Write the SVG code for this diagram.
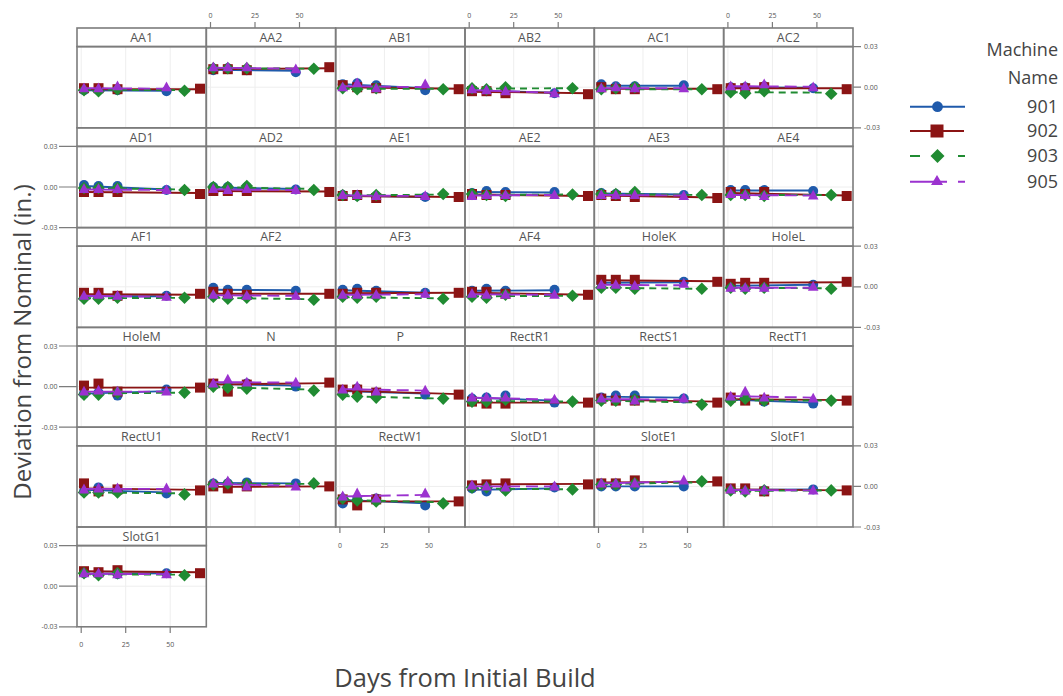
<svg xmlns="http://www.w3.org/2000/svg" xmlns:xlink="http://www.w3.org/1999/xlink" width="1063" height="696" viewBox="0 0 1063 696">
<style>
.sf,.pf{fill:none;stroke:#7c7c7c;stroke-width:1.6}
.gl{stroke:#eeeeee;stroke-width:1;fill:none}
.st{font-family:"Open Sans","Noto Sans",sans-serif;font-size:12.5px;fill:#555;text-anchor:middle}
.tk{font-family:"Open Sans","Noto Sans",sans-serif;font-size:7px;fill:#555}
.tm{stroke:#7c7c7c;stroke-width:1.2}
.ax{font-family:"Open Sans","Noto Sans",sans-serif;font-size:24px;fill:#444;text-anchor:middle}
.lg{font-family:"Open Sans","Noto Sans",sans-serif;font-size:18px;fill:#444;text-anchor:end}
.b{stroke:#1f5aab;stroke-width:1.9;fill:none}
.r{stroke:#8b1414;stroke-width:1.9;fill:none}
.g{stroke:#208b32;stroke-width:1.9;fill:none;stroke-dasharray:7 5}
.p{stroke:#9b32cf;stroke-width:1.9;fill:none;stroke-dasharray:12 6}
.mb,.mr,.mg,.mp{fill:none;stroke:none}
.mb{marker-start:url(#k1);marker-mid:url(#k1);marker-end:url(#k1)}
.mr{marker-start:url(#k2);marker-mid:url(#k2);marker-end:url(#k2)}
.mg{marker-start:url(#k3);marker-mid:url(#k3);marker-end:url(#k3)}
.mp{marker-start:url(#k4);marker-mid:url(#k4);marker-end:url(#k4)}
</style>
<defs>
<marker id="k1" viewBox="-8 -8 16 16" refX="0" refY="0" markerWidth="16" markerHeight="16" markerUnits="userSpaceOnUse" overflow="visible"><circle r="5" fill="#1f5aab"/></marker>
<marker id="k2" viewBox="-8 -8 16 16" refX="0" refY="0" markerWidth="16" markerHeight="16" markerUnits="userSpaceOnUse" overflow="visible"><rect x="-5" y="-5" width="10" height="10" fill="#8b1414"/></marker>
<marker id="k3" viewBox="-8 -8 16 16" refX="0" refY="0" markerWidth="16" markerHeight="16" markerUnits="userSpaceOnUse" overflow="visible"><path d="M0 -6.3L6.3 0L0 6.3L-6.3 0Z" fill="#208b32"/></marker>
<marker id="k4" viewBox="-8 -8 16 16" refX="0" refY="0" markerWidth="16" markerHeight="16" markerUnits="userSpaceOnUse" overflow="visible"><path d="M0 -5.8L5.3 4L-5.3 4Z" fill="#9b32cf"/></marker>
<g id="gr"><path class="gl" d="M4.2 -40.6V40.6M48.7 -40.6V40.6M93.2 -40.6V40.6M0 0H129.3"/></g>
<g id="fr"><rect class="sf" x="0" y="-59.2" width="129.3" height="18.6"/><rect class="pf" x="0" y="-40.6" width="129.3" height="81.2"/></g>
</defs>
<rect x="0" y="0" width="1063" height="696" fill="#ffffff"/>

<g id="axes">
<g id="ticks-top">
<path class="tm" d="M210.5 22V28M255 22V28M299.5 22V28M469.2 22V28M513.7 22V28M558.2 22V28M727.9 22V28M772.4 22V28M816.9 22V28"/>
<g class="tk" text-anchor="middle">
<text x="210.5" y="18">0</text><text x="255" y="18">25</text><text x="299.5" y="18">50</text>
<text x="469.2" y="18">0</text><text x="513.7" y="18">25</text><text x="558.2" y="18">50</text>
<text x="727.9" y="18">0</text><text x="772.4" y="18">25</text><text x="816.9" y="18">50</text>
</g>
</g>
<g id="ticks-bottom">
<path class="tm" d="M81.2 627V633M125.7 627V633M170.2 627V633M339.9 527V533M384.4 527V533M428.9 527V533M598.5 527V533M643 527V533M687.5 527V533"/>
<g class="tk" text-anchor="middle">
<text x="81.2" y="647">0</text><text x="125.7" y="647">25</text><text x="170.2" y="647">50</text>
<text x="339.9" y="547.5">0</text><text x="384.4" y="547.5">25</text><text x="428.9" y="547.5">50</text>
<text x="598.5" y="547.5">0</text><text x="643" y="547.5">25</text><text x="687.5" y="547.5">50</text>
</g>
</g>
<g id="ticks-left">
<path class="tm" d="M59 146.4H77M59 187H77M59 227.6H77M59 346H77M59 386.6H77M59 427.2H77M59 545.6H77M59 586.2H77M59 626.8H77"/>
<g class="tk" text-anchor="end">
<text x="57.5" y="148.9">0.03</text><text x="57.5" y="189.5">0.00</text><text x="57.5" y="230.1">-0.03</text>
<text x="57.5" y="348.5">0.03</text><text x="57.5" y="389.1">0.00</text><text x="57.5" y="429.7">-0.03</text>
<text x="57.5" y="548.1">0.03</text><text x="57.5" y="588.7">0.00</text><text x="57.5" y="629.3">-0.03</text>
</g>
</g>
<g id="ticks-right">
<path class="tm" d="M853 46.6H861M853 87.2H861M853 127.8H861M853 246.2H861M853 286.8H861M853 327.4H861M853 445.8H861M853 486.4H861M853 527H861"/>
<g class="tk">
<text x="864" y="49.1">0.03</text><text x="864" y="89.7">0.00</text><text x="864" y="130.3">-0.03</text>
<text x="864" y="248.7">0.03</text><text x="864" y="289.3">0.00</text><text x="864" y="329.9">-0.03</text>
<text x="864" y="448.3">0.03</text><text x="864" y="488.9">0.00</text><text x="864" y="529.5">-0.03</text>
</g>
</g>
<text class="ax" transform="translate(30.5,342) rotate(-90)">Deviation from Nominal (in.)</text>
<text class="ax" x="465" y="687" style="font-size:25.5px">Days from Initial Build</text>
</g>

<g id="panels">
<g id="p-AA1" transform="translate(77,87.2)"><use href="#gr"/>
<path class="b" d="M7 3L89.5 3.5"/><path class="mb" d="M7 3L21.5 3 40.5 3 89.5 4"/>
<path class="r" d="M7 2L123 2"/><path class="mr" d="M7 1L21.5 1 40.5 2 123 1.5"/>
<path class="g" d="M7 2.5L107.5 3"/><path class="mg" d="M7 3L21.5 4 40.5 2 107.5 3.5"/>
<path class="p" d="M7 1L89.5 1.5"/><path class="mp" d="M7 1L21.5 1 40.5 -1 89.5 0"/>
<use href="#fr"/><text class="st" x="64.65" y="-45.5">AA1</text></g>

<g id="p-AA2" transform="translate(206.3,87.2)"><use href="#gr"/>
<path class="b" d="M7 -17.5L89.5 -16.5"/><path class="mb" d="M7 -17L21.5 -19 40.5 -17 89.5 -15"/>
<path class="r" d="M7 -18L123 -19"/><path class="mr" d="M7 -18L21.5 -18 40.5 -17 123 -20"/>
<path class="g" d="M7 -19L107.5 -18.5"/><path class="mg" d="M7 -19L21.5 -19 40.5 -19 107.5 -18.5"/>
<path class="p" d="M7 -19.5L89.5 -18.5"/><path class="mp" d="M7 -20L21.5 -20 40.5 -20 89.5 -18"/>
<use href="#fr"/><text class="st" x="64.65" y="-45.5">AA2</text></g>

<g id="p-AB1" transform="translate(335.7,87.2)"><use href="#gr"/>
<path class="b" d="M7 -3L89.5 1"/><path class="mb" d="M7 -3L21.5 -4 40.5 -2 89.5 3"/>
<path class="r" d="M7 0L123 1.5"/><path class="mr" d="M7 -2L21.5 0 40.5 1 123 2"/>
<path class="g" d="M7 1.5L107.5 1.5"/><path class="mg" d="M7 1L21.5 2 40.5 1 107.5 2"/>
<path class="p" d="M7 -1L89.5 0"/><path class="mp" d="M7 0L21.5 -4 40.5 1 89.5 -3"/>
<use href="#fr"/><text class="st" x="64.65" y="-45.5">AB1</text></g>

<g id="p-AB2" transform="translate(465,87.2)"><use href="#gr"/>
<path class="b" d="M7 3.5L89.5 5.5"/><path class="mb" d="M7 3L21.5 4 40.5 4 89.5 6"/>
<path class="r" d="M7 4.5L123 6"/><path class="mr" d="M7 4L21.5 4 40.5 6 123 7"/>
<path class="g" d="M7 1.5L107.5 1"/><path class="mg" d="M7 1L21.5 2 40.5 0 107.5 1"/>
<path class="p" d="M7 3L89.5 5.5"/><path class="mp" d="M7 2L21.5 3 40.5 4 89.5 6"/>
<use href="#fr"/><text class="st" x="64.65" y="-45.5">AB2</text></g>

<g id="p-AC1" transform="translate(594.3,87.2)"><use href="#gr"/>
<path class="b" d="M7 -1.5L89.5 -1.5"/><path class="mb" d="M7 -3L21.5 -1 40.5 -1 89.5 -2"/>
<path class="r" d="M7 1.5L123 1.5"/><path class="mr" d="M7 0L21.5 2 40.5 2 123 2"/>
<path class="g" d="M7 2L107.5 2"/><path class="mg" d="M7 2L21.5 1 40.5 0 107.5 2"/>
<path class="p" d="M7 1L89.5 1"/><path class="mp" d="M7 1L21.5 0 40.5 1 89.5 1"/>
<use href="#fr"/><text class="st" x="64.65" y="-45.5">AC1</text></g>

<g id="p-AC2" transform="translate(723.7,87.2)"><use href="#gr"/>
<path class="b" d="M7 0L89.5 0.5"/><path class="mb" d="M7 0L21.5 0 40.5 -1 89.5 1"/>
<path class="r" d="M7 1L123 1"/><path class="mr" d="M7 1L21.5 1 40.5 0 123 2"/>
<path class="g" d="M7 5L107.5 5.5"/><path class="mg" d="M7 5L21.5 6 40.5 4 107.5 6.5"/>
<path class="p" d="M7 -1L89.5 -0.5"/><path class="mp" d="M7 -1L21.5 -1 40.5 -3 89.5 0"/>
<use href="#fr"/><text class="st" x="64.65" y="-45.5">AC2</text></g>

<g id="p-AD1" transform="translate(77,187)"><use href="#gr"/>
<path class="b" d="M7 -1L89.5 2.5"/><path class="mb" d="M7 -2L21.5 -1 40.5 -1 89.5 3"/>
<path class="r" d="M7 5L123 6"/><path class="mr" d="M7 5L21.5 5 40.5 5 123 7"/>
<path class="g" d="M7 1L107.5 2.5"/><path class="mg" d="M7 1L21.5 1 40.5 1 107.5 3"/>
<path class="p" d="M7 2.5L89.5 3"/><path class="mp" d="M7 2L21.5 2 40.5 2 89.5 3"/>
<use href="#fr"/><text class="st" x="64.65" y="-45.5">AD1</text></g>

<g id="p-AD2" transform="translate(206.3,187)"><use href="#gr"/>
<path class="b" d="M7 0.5L89.5 2"/><path class="mb" d="M7 0L21.5 0 40.5 0 89.5 2.5"/>
<path class="r" d="M7 4L123 4.5"/><path class="mr" d="M7 4L21.5 4 40.5 4 123 5"/>
<path class="g" d="M7 0L107.5 2"/><path class="mg" d="M7 0L21.5 0 40.5 -1 107.5 3"/>
<path class="p" d="M7 2.5L89.5 3"/><path class="mp" d="M7 2L21.5 3 40.5 2 89.5 3"/>
<use href="#fr"/><text class="st" x="64.65" y="-45.5">AD2</text></g>

<g id="p-AE1" transform="translate(335.7,187)"><use href="#gr"/>
<path class="b" d="M7 8.5L89.5 10"/><path class="mb" d="M7 8L21.5 9 40.5 9 89.5 10"/>
<path class="r" d="M7 9L123 10"/><path class="mr" d="M7 9L21.5 8 40.5 11 123 10"/>
<path class="g" d="M7 8.5L107.5 7.5"/><path class="mg" d="M7 8L21.5 9 40.5 8 107.5 7"/>
<path class="p" d="M7 8.5L89.5 9"/><path class="mp" d="M7 8L21.5 8 40.5 9 89.5 9"/>
<use href="#fr"/><text class="st" x="64.65" y="-45.5">AE1</text></g>

<g id="p-AE2" transform="translate(465,187)"><use href="#gr"/>
<path class="b" d="M7 5L89.5 5.5"/><path class="mb" d="M7 6L21.5 4 40.5 5 89.5 5"/>
<path class="r" d="M7 7.5L123 9"/><path class="mr" d="M7 7L21.5 8 40.5 8 123 9"/>
<path class="g" d="M7 8L107.5 7.5"/><path class="mg" d="M7 7L21.5 8 40.5 9 107.5 7.5"/>
<path class="p" d="M7 8.5L89.5 8"/><path class="mp" d="M7 9L21.5 8 40.5 8 89.5 8"/>
<use href="#fr"/><text class="st" x="64.65" y="-45.5">AE2</text></g>

<g id="p-AE3" transform="translate(594.3,187)"><use href="#gr"/>
<path class="b" d="M7 6.5L89.5 7.5"/><path class="mb" d="M7 6L21.5 7 40.5 7 89.5 8"/>
<path class="r" d="M7 8.5L123 10.5"/><path class="mr" d="M7 8L21.5 9 40.5 10 123 11"/>
<path class="g" d="M7 7L107.5 8"/><path class="mg" d="M7 7L21.5 7 40.5 5 107.5 8"/>
<path class="p" d="M7 8L89.5 8.5"/><path class="mp" d="M7 8L21.5 8 40.5 8 89.5 9"/>
<use href="#fr"/><text class="st" x="64.65" y="-45.5">AE3</text></g>

<g id="p-AE4" transform="translate(723.7,187)"><use href="#gr"/>
<path class="b" d="M7 3.5L89.5 3.5"/><path class="mb" d="M7 3L21.5 3 40.5 3 89.5 4"/>
<path class="r" d="M7 6L123 8.5"/><path class="mr" d="M7 5L21.5 7 40.5 5 123 9"/>
<path class="g" d="M7 8L107.5 8"/><path class="mg" d="M7 8L21.5 8 40.5 9 107.5 8"/>
<path class="p" d="M7 8L89.5 8.5"/><path class="mp" d="M7 7L21.5 8 40.5 9 89.5 8.5"/>
<use href="#fr"/><text class="st" x="64.65" y="-45.5">AE4</text></g>

<g id="p-AF1" transform="translate(77,286.8)"><use href="#gr"/>
<path class="b" d="M7 9.5L89.5 9.5"/><path class="mb" d="M7 9L21.5 9 40.5 10 89.5 9"/>
<path class="r" d="M7 7.5L123 8"/><path class="mr" d="M7 6L21.5 6 40.5 9 123 7"/>
<path class="g" d="M7 11.5L107.5 11"/><path class="mg" d="M7 12L21.5 12 40.5 11 107.5 11"/>
<path class="p" d="M7 9L89.5 10"/><path class="mp" d="M7 9L21.5 8 40.5 9 89.5 10"/>
<use href="#fr"/><text class="st" x="64.65" y="-45.5">AF1</text></g>

<g id="p-AF2" transform="translate(206.3,286.8)"><use href="#gr"/>
<path class="b" d="M7 3L89.5 3.5"/><path class="mb" d="M7 1L21.5 3 40.5 3 89.5 4"/>
<path class="r" d="M7 7L123 7"/><path class="mr" d="M7 5L21.5 7 40.5 8 123 7"/>
<path class="g" d="M7 11L107.5 12.5"/><path class="mg" d="M7 10L21.5 12 40.5 11 107.5 13"/>
<path class="p" d="M7 8.5L89.5 9"/><path class="mp" d="M7 8L21.5 8 40.5 9 89.5 9"/>
<use href="#fr"/><text class="st" x="64.65" y="-45.5">AF2</text></g>

<g id="p-AF3" transform="translate(335.7,286.8)"><use href="#gr"/>
<path class="b" d="M7 3.5L89.5 6"/><path class="mb" d="M7 3L21.5 2 40.5 4 89.5 6"/>
<path class="r" d="M7 6.5L123 6"/><path class="mr" d="M7 7L21.5 6 40.5 6 123 6"/>
<path class="g" d="M7 10.5L107.5 11.5"/><path class="mg" d="M7 10L21.5 11 40.5 10 107.5 12"/>
<path class="p" d="M7 8L89.5 7.5"/><path class="mp" d="M7 8L21.5 8 40.5 8 89.5 7"/>
<use href="#fr"/><text class="st" x="64.65" y="-45.5">AF3</text></g>

<g id="p-AF4" transform="translate(465,286.8)"><use href="#gr"/>
<path class="b" d="M7 4L89.5 3.5"/><path class="mb" d="M7 4L21.5 2 40.5 4 89.5 3"/>
<path class="r" d="M7 6L123 8"/><path class="mr" d="M7 5L21.5 5 40.5 7 123 8"/>
<path class="g" d="M7 9.5L107.5 9"/><path class="mg" d="M7 10L21.5 11 40.5 8 107.5 9"/>
<path class="p" d="M7 7.5L89.5 8"/><path class="mp" d="M7 7L21.5 8 40.5 8 89.5 8"/>
<use href="#fr"/><text class="st" x="64.65" y="-45.5">AF4</text></g>

<g id="p-HoleK" transform="translate(594.3,286.8)"><use href="#gr"/>
<path class="b" d="M7 -4L89.5 -4.5"/><path class="mb" d="M7 -4L21.5 -4 40.5 -4 89.5 -5"/>
<path class="r" d="M7 -6.5L123 -5.5"/><path class="mr" d="M7 -7L21.5 -7 40.5 -7 123 -5"/>
<path class="g" d="M7 1L107.5 2"/><path class="mg" d="M7 1L21.5 1 40.5 2 107.5 2"/>
<path class="p" d="M7 -2L89.5 -1.5"/><path class="mp" d="M7 -2L21.5 -2 40.5 -1 89.5 -3"/>
<use href="#fr"/><text class="st" x="64.65" y="-45.5">HoleK</text></g>

<g id="p-HoleL" transform="translate(723.7,286.8)"><use href="#gr"/>
<path class="b" d="M7 -1L89.5 -2"/><path class="mb" d="M7 -1L21.5 0 40.5 0 89.5 -2"/>
<path class="r" d="M7 -4L123 -4.5"/><path class="mr" d="M7 -3L21.5 -4 40.5 -4 123 -5"/>
<path class="g" d="M7 1L107.5 1.5"/><path class="mg" d="M7 1L21.5 2 40.5 1 107.5 2"/>
<path class="p" d="M7 1L89.5 1"/><path class="mp" d="M7 1L21.5 1 40.5 1 89.5 0"/>
<use href="#fr"/><text class="st" x="64.65" y="-45.5">HoleL</text></g>

<g id="p-HoleM" transform="translate(77,386.6)"><use href="#gr"/>
<path class="b" d="M7 7L89.5 4.5"/><path class="mb" d="M7 7L21.5 6 40.5 9 89.5 3"/>
<path class="r" d="M7 1L123 1"/><path class="mr" d="M7 -1L21.5 -3 40.5 5 123 1"/>
<path class="g" d="M7 7L107.5 6"/><path class="mg" d="M7 8L21.5 8 40.5 6 107.5 6"/>
<path class="p" d="M7 5L89.5 5"/><path class="mp" d="M7 5L21.5 4 40.5 5 89.5 5"/>
<use href="#fr"/><text class="st" x="64.65" y="-45.5">HoleM</text></g>

<g id="p-N" transform="translate(206.3,386.6)"><use href="#gr"/>
<path class="b" d="M7 -2.5L89.5 -1"/><path class="mb" d="M7 -2L21.5 -2 40.5 -3 89.5 0"/>
<path class="r" d="M7 -2L123 -3.5"/><path class="mr" d="M7 -3L21.5 5 40.5 -2 123 -4"/>
<path class="g" d="M7 0.5L107.5 3"/><path class="mg" d="M7 0L21.5 1 40.5 2 107.5 4"/>
<path class="p" d="M7 -4.5L89.5 -4"/><path class="mp" d="M7 -3L21.5 -7 40.5 -4 89.5 -4"/>
<use href="#fr"/><text class="st" x="64.65" y="-45.5">N</text></g>

<g id="p-P" transform="translate(335.7,386.6)"><use href="#gr"/>
<path class="b" d="M7 4.5L89.5 7"/><path class="mb" d="M7 4L21.5 2 40.5 6 89.5 8"/>
<path class="r" d="M7 4L123 7.5"/><path class="mr" d="M7 3L21.5 3 40.5 6 123 8"/>
<path class="g" d="M7 9.5L107.5 12"/><path class="mg" d="M7 8L21.5 10 40.5 11 107.5 12"/>
<path class="p" d="M7 2.5L89.5 4"/><path class="mp" d="M7 3L21.5 0 40.5 5 89.5 4"/>
<use href="#fr"/><text class="st" x="64.65" y="-45.5">P</text></g>

<g id="p-RectR1" transform="translate(465,386.6)"><use href="#gr"/>
<path class="b" d="M7 11L89.5 14"/><path class="mb" d="M7 12L21.5 11 40.5 9 89.5 16"/>
<path class="r" d="M7 16L123 16"/><path class="mr" d="M7 15L21.5 17 40.5 17 123 16"/>
<path class="g" d="M7 14.5L107.5 15"/><path class="mg" d="M7 15L21.5 15 40.5 13 107.5 15"/>
<path class="p" d="M7 11L89.5 13"/><path class="mp" d="M7 11L21.5 11 40.5 11 89.5 13"/>
<use href="#fr"/><text class="st" x="64.65" y="-45.5">RectR1</text></g>

<g id="p-RectS1" transform="translate(594.3,386.6)"><use href="#gr"/>
<path class="b" d="M7 10L89.5 11"/><path class="mb" d="M7 11L21.5 9 40.5 9 89.5 12"/>
<path class="r" d="M7 13L123 15"/><path class="mr" d="M7 12L21.5 14 40.5 14 123 16"/>
<path class="g" d="M7 14L107.5 16"/><path class="mg" d="M7 14L21.5 14 40.5 13 107.5 18"/>
<path class="p" d="M7 12.5L89.5 13"/><path class="mp" d="M7 12L21.5 12 40.5 14 89.5 12"/>
<use href="#fr"/><text class="st" x="64.65" y="-45.5">RectS1</text></g>

<g id="p-RectT1" transform="translate(723.7,386.6)"><use href="#gr"/>
<path class="b" d="M7 13L89.5 16"/><path class="mb" d="M7 12L21.5 12 40.5 15 89.5 17"/>
<path class="r" d="M7 12.5L123 13.5"/><path class="mr" d="M7 11L21.5 14 40.5 13 123 14"/>
<path class="g" d="M7 13.5L107.5 14"/><path class="mg" d="M7 14L21.5 12 40.5 14 107.5 14"/>
<path class="p" d="M7 9.5L89.5 11"/><path class="mp" d="M7 10L21.5 5 40.5 11 89.5 12"/>
<use href="#fr"/><text class="st" x="64.65" y="-45.5">RectT1</text></g>

<g id="p-RectU1" transform="translate(77,486.4)"><use href="#gr"/>
<path class="b" d="M7 3.5L89.5 6"/><path class="mb" d="M7 5L21.5 1 40.5 4 89.5 7"/>
<path class="r" d="M7 2L123 3.5"/><path class="mr" d="M7 -3L21.5 5 40.5 3 123 4"/>
<path class="g" d="M7 6L107.5 7"/><path class="mg" d="M7 6L21.5 6 40.5 6 107.5 8"/>
<path class="p" d="M7 2.5L89.5 2.5"/><path class="mp" d="M7 3L21.5 2 40.5 2 89.5 2"/>
<use href="#fr"/><text class="st" x="64.65" y="-45.5">RectU1</text></g>

<g id="p-RectV1" transform="translate(206.3,486.4)"><use href="#gr"/>
<path class="b" d="M7 -3.5L89.5 -3"/><path class="mb" d="M7 -3L21.5 -3 40.5 -4 89.5 -3"/>
<path class="r" d="M7 0.5L123 0"/><path class="mr" d="M7 0L21.5 2 40.5 0 123 0"/>
<path class="g" d="M7 -2.5L107.5 -2.5"/><path class="mg" d="M7 -2L21.5 -3 40.5 -2 107.5 -3"/>
<path class="p" d="M7 -2.5L89.5 -0.5"/><path class="mp" d="M7 -3L21.5 -5 40.5 0 89.5 0"/>
<use href="#fr"/><text class="st" x="64.65" y="-45.5">RectV1</text></g>

<g id="p-RectW1" transform="translate(335.7,486.4)"><use href="#gr"/>
<path class="b" d="M7 13.5L89.5 17"/><path class="mb" d="M7 17L21.5 13 40.5 12 89.5 19"/>
<path class="r" d="M7 15L123 15"/><path class="mr" d="M7 13L21.5 19 40.5 13 123 15"/>
<path class="g" d="M7 13.5L107.5 16"/><path class="mg" d="M7 12L21.5 14 40.5 15 107.5 17"/>
<path class="p" d="M7 10L89.5 8.5"/><path class="mp" d="M7 10L21.5 7 40.5 12 89.5 7"/>
<use href="#fr"/><text class="st" x="64.65" y="-45.5">RectW1</text></g>

<g id="p-SlotD1" transform="translate(465,486.4)"><use href="#gr"/>
<path class="b" d="M7 3.5L89.5 2"/><path class="mb" d="M7 2L21.5 5 40.5 3 89.5 1"/>
<path class="r" d="M7 -2L123 -2.5"/><path class="mr" d="M7 -1L21.5 -2 40.5 -3 123 -2"/>
<path class="g" d="M7 2L107.5 3"/><path class="mg" d="M7 1L21.5 1 40.5 4 107.5 3"/>
<path class="p" d="M7 0L89.5 0"/><path class="mp" d="M7 -1L21.5 0 40.5 1 89.5 0"/>
<use href="#fr"/><text class="st" x="64.65" y="-45.5">SlotD1</text></g>

<g id="p-SlotE1" transform="translate(594.3,486.4)"><use href="#gr"/>
<path class="b" d="M7 0L89.5 0"/><path class="mb" d="M7 0L21.5 0 40.5 0 89.5 0"/>
<path class="r" d="M7 -4L123 -4.5"/><path class="mr" d="M7 -3L21.5 -3 40.5 -6 123 -5"/>
<path class="g" d="M7 -2.5L107.5 -4"/><path class="mg" d="M7 -2L21.5 -2 40.5 -3 107.5 -5"/>
<path class="p" d="M7 -3L89.5 -5"/><path class="mp" d="M7 -3L21.5 -3 40.5 -3 89.5 -6"/>
<use href="#fr"/><text class="st" x="64.65" y="-45.5">SlotE1</text></g>

<g id="p-SlotF1" transform="translate(723.7,486.4)"><use href="#gr"/>
<path class="b" d="M7 3.5L89.5 3"/><path class="mb" d="M7 3L21.5 3 40.5 4 89.5 3"/>
<path class="r" d="M7 3L123 4"/><path class="mr" d="M7 2L21.5 2 40.5 5 123 4"/>
<path class="g" d="M7 4.5L107.5 4"/><path class="mg" d="M7 4L21.5 5 40.5 4 107.5 4"/>
<path class="p" d="M7 3.5L89.5 4"/><path class="mp" d="M7 3L21.5 4 40.5 4 89.5 4"/>
<use href="#fr"/><text class="st" x="64.65" y="-45.5">SlotF1</text></g>

<g id="p-SlotG1" transform="translate(77,586.2)"><use href="#gr"/>
<path class="b" d="M7 -12.5L89.5 -13"/><path class="mb" d="M7 -13L21.5 -12 40.5 -12 89.5 -13"/>
<path class="r" d="M7 -15L123 -14"/><path class="mr" d="M7 -15L21.5 -14 40.5 -16 123 -13"/>
<path class="g" d="M7 -12L107.5 -11.5"/><path class="mg" d="M7 -13L21.5 -11 40.5 -13 107.5 -11"/>
<path class="p" d="M7 -12.5L89.5 -12"/><path class="mp" d="M7 -13L21.5 -13 40.5 -12 89.5 -12"/>
<use href="#fr"/><text class="st" x="64.65" y="-45.5">SlotG1</text></g>
</g>

<g id="legend">
<text class="lg" x="1058" y="56">Machine</text>
<text class="lg" x="1058" y="83.5">Name</text>
<g id="leg-901"><path d="M910 106.7H965" stroke="#1f5aab" stroke-width="2"/><circle cx="937.5" cy="106.7" r="5.4" fill="#1f5aab"/><text class="lg" x="1058" y="113">901</text></g>
<g id="leg-902"><path d="M910 131H964" stroke="#8b1414" stroke-width="2"/><rect x="930.5" y="124.5" width="13" height="13" fill="#8b1414"/><text class="lg" x="1058" y="137.3">902</text></g>
<g id="leg-903"><path d="M910 156H965" stroke="#208b32" stroke-width="2" stroke-dasharray="10 38 7"/><path d="M937.5 149L944.5 156L937.5 163L930.5 156Z" fill="#208b32"/><text class="lg" x="1058" y="162.3">903</text></g>
<g id="leg-905"><path d="M910 181.7H965" stroke="#9b32cf" stroke-width="2" stroke-dasharray="37 11 7"/><path d="M937 175L943 185L931 185Z" fill="#9b32cf"/><text class="lg" x="1058" y="188">905</text></g>
</g>
</svg>
